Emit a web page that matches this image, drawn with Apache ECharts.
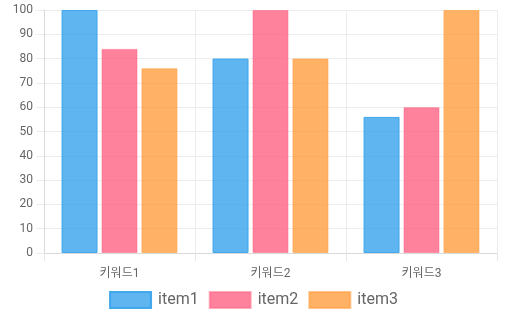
<!DOCTYPE html>
<html>
<head>
<meta charset="utf-8">
<script src="https://cdn.jsdelivr.net/npm/echarts@6/dist/echarts.min.js"></script>
<style>
  html, body { margin: 0; padding: 0; background: #fff; }
  #chart { width: 507px; height: 328px; }
</style>
</head>
<body>
<div id="chart"></div>
<script>
const categories = ['키워드1', '키워드2', '키워드3'];
const item1 = [100, 80, 56];
const item2 = [84, 100, 60];
const item3 = [76, 80, 100];
const seriesNames = ['item1', 'item2', 'item3'];

const fills = ['rgba(54,162,235,0.8)', 'rgba(255,99,132,0.8)', 'rgba(255,159,64,0.8)'];
const borders = ['rgba(54,162,235,0.9)', 'rgba(255,99,132,0.5)', 'rgba(255,159,64,0.6)'];
const fontFamily = "Roboto, 'Noto Sans CJK KR', sans-serif";

const chart = echarts.init(document.getElementById('chart'), null, { renderer: 'canvas' });

const values = [item1, item2, item3];
chart.setOption({
  animation: false,
  textStyle: { fontFamily },
  grid: { left: 44, right: 10, top: 10, bottom: 75, containLabel: false },
  legend: {
    bottom: 14,
    left: 'center',
    itemWidth: 41,
    itemHeight: 16,
    itemGap: 10,
    icon: 'rect',
    textStyle: { fontSize: 16, color: '#666', fontFamily, padding: [0, 0, 0, 2] },
    data: seriesNames
  },
  xAxis: {
    type: 'category',
    data: categories,
    boundaryGap: true,
    axisLine: { show: true, lineStyle: { color: '#d9d9d9', width: 1 } },
    axisTick: { show: true, length: 8, alignWithLabel: false, lineStyle: { color: '#e6e6e6' } },
    splitLine: { show: true, lineStyle: { color: '#ececec' } },
    axisLabel: { color: '#666', fontSize: 12, margin: 15, fontFamily }
  },
  yAxis: {
    type: 'value',
    min: 0,
    max: 100,
    interval: 10,
    axisLine: { show: true, lineStyle: { color: '#d9d9d9', width: 1 } },
    axisTick: { show: true, length: 8, inside: false, lineStyle: { color: '#ececec' } },
    splitLine: { show: true, lineStyle: { color: '#ececec' } },
    axisLabel: { color: '#666', fontSize: 12, margin: 11, fontFamily }
  },
  series: seriesNames.map((name, i) => ({
    name,
    type: 'bar',
    data: values[i],
    barWidth: 36,
    barGap: '11%',
    itemStyle: { color: fills[i], borderColor: borders[i], borderWidth: 1 }
  }))
});
</script>
</body>
</html>
